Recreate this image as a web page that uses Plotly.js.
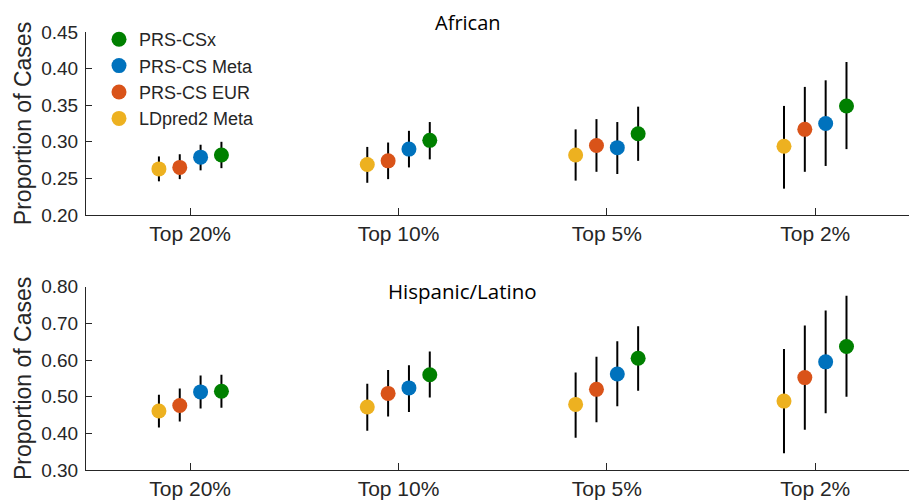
<!DOCTYPE html>
<html>
<head>
<meta charset="utf-8">
<script src="https://cdn.plot.ly/plotly-3.0.1.min.js"></script>
<style>html,body{margin:0;padding:0;background:#fff}</style>
</head>
<body>
<div id="chart" style="width:909px;height:501px"></div>
<script>
// ---- data ----
const categories = ['Top 20%', 'Top 10%', 'Top 5%', 'Top 2%'];
const seriesNames = ['LDpred2 Meta', 'PRS-CS EUR', 'PRS-CS Meta', 'PRS-CSx'];
const seriesColors = ['#EDB120', '#D95319', '#0072BD', '#008000'];

// African
const afrLDpred2    = [0.263, 0.269, 0.282, 0.294];
const afrLDpred2Lo  = [0.246, 0.244, 0.247, 0.236];
const afrLDpred2Hi  = [0.280, 0.293, 0.317, 0.349];
const afrEUR        = [0.265, 0.274, 0.295, 0.317];
const afrEURLo      = [0.249, 0.249, 0.259, 0.259];
const afrEURHi      = [0.283, 0.299, 0.331, 0.375];
const afrMeta       = [0.279, 0.290, 0.292, 0.325];
const afrMetaLo     = [0.261, 0.265, 0.256, 0.267];
const afrMetaHi     = [0.296, 0.315, 0.327, 0.384];
const afrCSx        = [0.282, 0.302, 0.311, 0.349];
const afrCSxLo      = [0.264, 0.276, 0.274, 0.290];
const afrCSxHi      = [0.300, 0.327, 0.348, 0.409];

// Hispanic/Latino
const hisLDpred2    = [0.461, 0.472, 0.479, 0.488];
const hisLDpred2Lo  = [0.416, 0.407, 0.388, 0.346];
const hisLDpred2Hi  = [0.505, 0.535, 0.566, 0.630];
const hisEUR        = [0.476, 0.509, 0.520, 0.552];
const hisEURLo      = [0.432, 0.446, 0.430, 0.410];
const hisEURHi      = [0.522, 0.573, 0.609, 0.694];
const hisMeta       = [0.513, 0.524, 0.562, 0.595];
const hisMetaLo     = [0.468, 0.458, 0.474, 0.455];
const hisMetaHi     = [0.558, 0.586, 0.651, 0.735];
const hisCSx        = [0.515, 0.560, 0.605, 0.637];
const hisCSxLo      = [0.470, 0.498, 0.516, 0.500];
const hisCSxHi      = [0.560, 0.623, 0.692, 0.775];

const afrSeries = [[afrLDpred2, afrLDpred2Lo, afrLDpred2Hi], [afrEUR, afrEURLo, afrEURHi],
                   [afrMeta, afrMetaLo, afrMetaHi], [afrCSx, afrCSxLo, afrCSxHi]];
const hisSeries = [[hisLDpred2, hisLDpred2Lo, hisLDpred2Hi], [hisEUR, hisEURLo, hisEURHi],
                   [hisMeta, hisMetaLo, hisMetaHi], [hisCSx, hisCSxLo, hisCSxHi]];

// ---- build traces ----
const groupOffsets = [-0.15, -0.05, 0.05, 0.15];
const traces = [];
function addPanel(series, xa, ya, showLegend) {
  series.forEach((s, k) => {
    const [v, lo, hi] = s;
    traces.push({
      type: 'scatter', mode: 'markers',
      name: seriesNames[k], legendrank: 4 - k, showlegend: showLegend,
      x: categories.map((c, i) => i + groupOffsets[k]),
      y: v,
      xaxis: xa, yaxis: ya,
      marker: {color: seriesColors[k], size: 15},
      error_y: {type: 'data', symmetric: false,
        array: v.map((val, i) => hi[i] - val),
        arrayminus: v.map((val, i) => val - lo[i]),
        color: '#000000', thickness: 2, width: 0},
      hoverinfo: 'x+y'
    });
  });
}
addPanel(afrSeries, 'x', 'y', true);
addPanel(hisSeries, 'x2', 'y2', false);

const H = 501, W = 909, L = 86;
const axisColor = '#262626';
const xBase = {
  range: [-0.5, 3.45], tickvals: [0, 1, 2, 3], ticktext: categories,
  showline: true, linecolor: axisColor, linewidth: 1, mirror: false,
  ticks: 'inside', ticklen: 7, tickcolor: axisColor, tickwidth: 1,
  showgrid: false, zeroline: false, ticklabelstandoff: 0,
  tickfont: {family: 'Liberation Sans, Arial, sans-serif', size: 21, color: axisColor}
};
const yBase = {
  showline: true, linecolor: axisColor, linewidth: 1, mirror: false,
  ticks: 'inside', ticklen: 6, tickcolor: axisColor, tickwidth: 1,
  showgrid: false, zeroline: false, tickformat: '.2f', ticklabelstandoff: 3,
  tickfont: {family: 'Liberation Sans, Arial, sans-serif', size: 19, color: axisColor},
  title: {text: 'Proportion of Cases', standoff: 3,
    font: {family: 'Liberation Sans, Arial, sans-serif', size: 23, color: axisColor}}
};
const py = p => 1 - p / H;
const px = p => (p - L) / (W - L);

const layout = {
  width: W, height: H,
  margin: {l: L, r: 0, t: 0, b: 0},
  paper_bgcolor: '#ffffff', plot_bgcolor: '#ffffff',
  showlegend: true,
  xaxis: Object.assign({}, xBase, {domain: [0, 1], anchor: 'y'}),
  yaxis: Object.assign({}, yBase, {domain: [py(215), py(32)], range: [0.20, 0.45], dtick: 0.05, tick0: 0.2, anchor: 'x'}),
  xaxis2: Object.assign({}, xBase, {domain: [0, 1], anchor: 'y2'}),
  yaxis2: Object.assign({}, yBase, {domain: [py(470), py(286.7)], range: [0.30, 0.80], dtick: 0.1, tick0: 0.3, anchor: 'x2'}),
  legend: {
    xref: 'paper', yref: 'paper',
    x: px(99), y: py(21), xanchor: 'left', yanchor: 'top',
    bgcolor: 'rgba(0,0,0,0)', borderwidth: 0,
    font: {family: 'Liberation Sans, Arial, sans-serif', size: 18, color: axisColor},
    tracegroupgap: 0
  },
  annotations: [
    {text: 'African', xref: 'paper', yref: 'paper', x: px(468), y: py(22),
     xanchor: 'center', yanchor: 'middle', showarrow: false,
     font: {family: 'Open Sans, sans-serif', size: 20, color: '#000000'}},
    {text: 'Hispanic/Latino', xref: 'paper', yref: 'paper', x: px(462), y: py(291),
     xanchor: 'center', yanchor: 'middle', showarrow: false,
     font: {family: 'Open Sans, sans-serif', size: 20.5, color: '#000000'}}
  ]
};

Plotly.newPlot('chart', traces, layout, {displayModeBar: false, staticPlot: true});
</script>
</body>
</html>
